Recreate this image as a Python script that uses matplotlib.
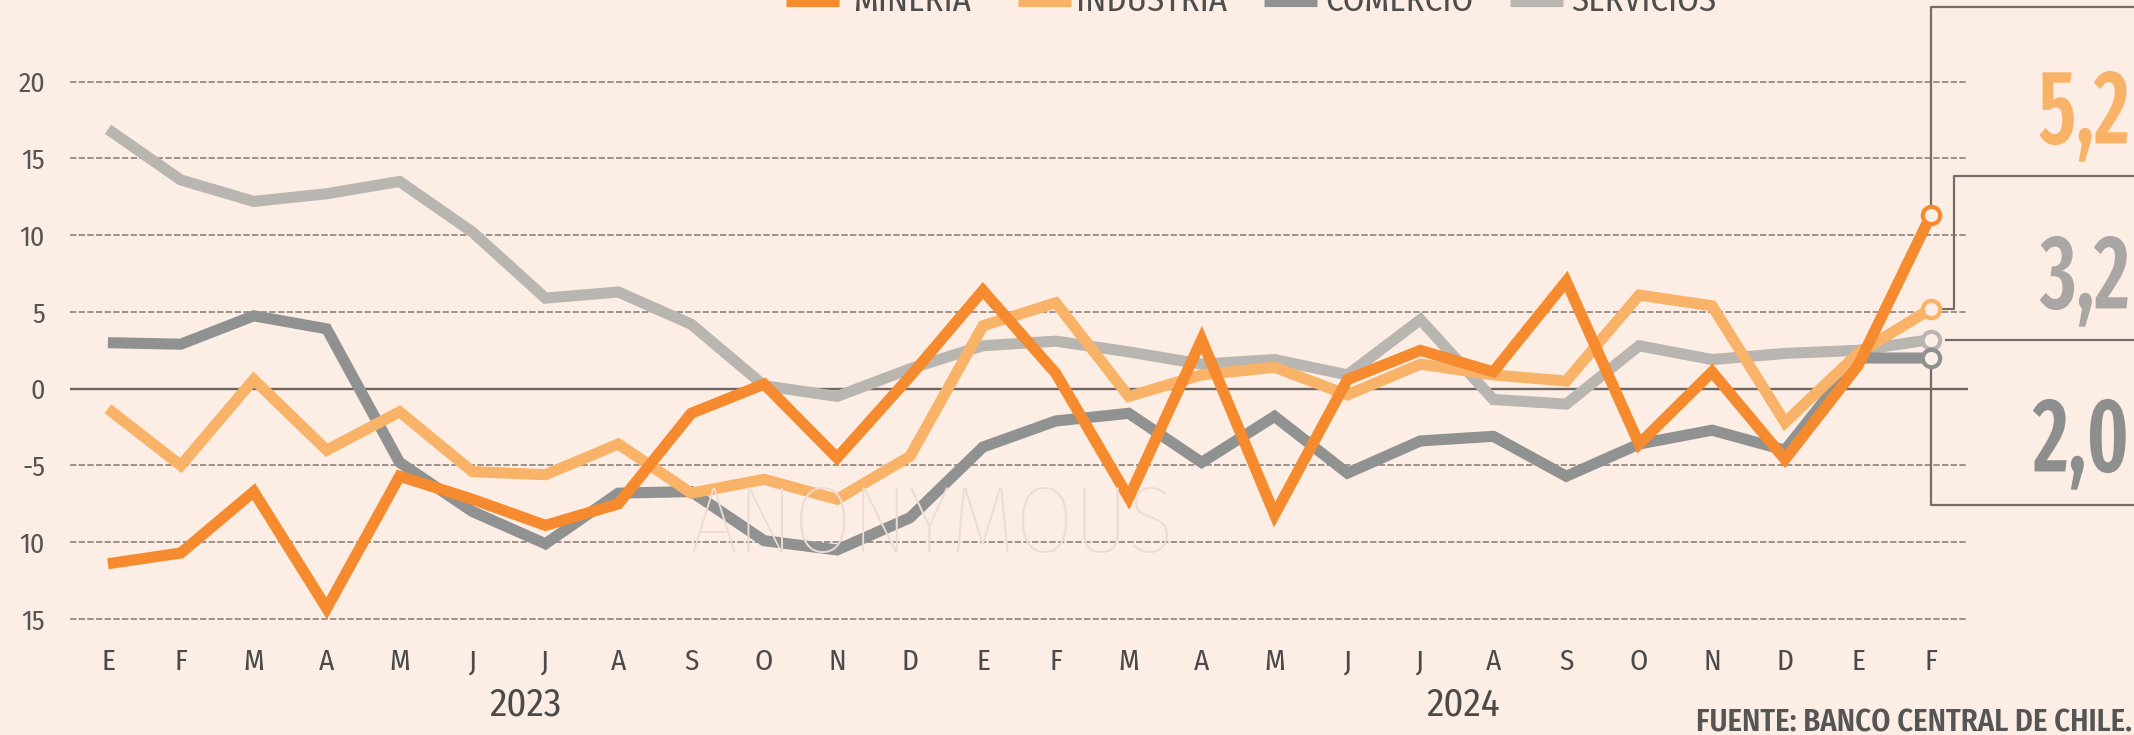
import matplotlib
matplotlib.use("Agg")
import matplotlib.pyplot as plt
from matplotlib import transforms
from matplotlib.lines import Line2D
from matplotlib.patheffects import AbstractPathEffect
from matplotlib.transforms import Affine2D

W, H, DPI = 2134, 735, 100
BG = "#fdeee5"
plt.rcParams["font.family"] = ["Fira Sans Condensed", "DejaVu Sans"]
BIG_FONT = ["Fira Sans Extra Condensed", "DejaVu Sans"]

# --- data (monthly y/y %, Jan 2023 - Feb 2025) ---
months = ["E", "F", "M", "A", "M", "J", "J", "A", "S", "O", "N", "D",
          "E", "F", "M", "A", "M", "J", "J", "A", "S", "O", "N", "D",
          "E", "F"]
years = ["2023", "2024"]
year_x = [5.73, 18.59]

mineria = [-11.4, -10.7, -6.7, -14.3, -5.7, -7.2, -8.9, -7.5, -1.6, 0.3, -4.5, 0.8,
           6.4, 1.0, -7.1, 3.2, -8.2, 0.6, 2.5, 1.1, 7.0, -3.6, 1.1, -4.6,
           1.5, 11.3]
industria = [-1.3, -5.0, 0.6, -4.0, -1.5, -5.4, -5.6, -3.6, -6.8, -5.9, -7.2, -4.4,
             4.1, 5.6, -0.5, 0.9, 1.4, -0.4, 1.6, 0.9, 0.5, 6.1, 5.4, -2.2,
             2.3, 5.2]
comercio = [3.0, 2.9, 4.75, 3.9, -4.8, -8.0, -10.1, -6.8, -6.7, -9.9, -10.5, -8.4,
            -3.8, -2.1, -1.6, -4.8, -1.8, -5.5, -3.4, -3.1, -5.7, -3.6, -2.7, -4.0,
            2.0, 2.0]
servicios = [16.9, 13.6, 12.2, 12.7, 13.5, 10.2, 5.9, 6.3, 4.2, 0.2, -0.5, 1.3,
             2.8, 3.1, 2.4, 1.6, 1.9, 0.9, 4.5, -0.7, -1.0, 2.8, 1.9, 2.3,
             2.5, 3.2]

yticks = [20, 15, 10, 5, 0, -5, -10, -15]
ytick_labels = ["20", "15", "10", "5", "0", "-5", "10", "15"]
legend_names = ["MINERIA", "INDUSTRIA", "COMERCIO", "SERVICIOS"]

C_MIN = "#f58a2e"
C_IND = "#f9b368"
C_COM = "#8f9291"
C_SER = "#b9b5b1"
C_LINE = "#746c66"


def fmt(v):
    return f"{v:.1f}".replace(".", ",")


class Squeeze(AbstractPathEffect):
    """Narrow the glyphs horizontally, keeping the right edge in place."""

    def __init__(self, sx):
        super().__init__()
        self.sx = sx

    def draw_path(self, renderer, gc, tpath, affine, rgbFace=None):
        x1 = affine.transform_path(tpath).get_extents().x1
        aff = affine + Affine2D().translate(-x1, 0).scale(self.sx, 1).translate(x1, 0)
        renderer.draw_path(gc, tpath, aff, rgbFace)


fig = plt.figure(figsize=(W / DPI, H / DPI), dpi=DPI)
fig.patch.set_facecolor(BG)

ax = fig.add_axes([70 / W, 1 - 626.7 / H, 1898 / W, 552.7 / H])
ax.set_facecolor(BG)
ax.set_xlim(-0.52, 25.51)
ax.set_ylim(-15.5, 20.5)

x = list(range(len(months)))
series = [
    ("SERVICIOS", servicios, C_SER, 3),
    ("COMERCIO", comercio, C_COM, 4),
    ("INDUSTRIA", industria, C_IND, 5),
    ("MINERIA", mineria, C_MIN, 6),
]
colors = {}
for name, vals, col, z in series:
    ax.plot(x, vals, color=col, lw=8, solid_joinstyle="miter",
            solid_capstyle="butt", zorder=z)
    ax.plot(x[-1], vals[-1], "o", ms=12.5, mfc=BG, mec=col, mew=3, zorder=z + 10)
    colors[name] = col

ax.set_yticks(yticks)
ax.set_yticklabels(ytick_labels)
ax.set_xticks(x)
ax.set_xticklabels(months)
ax.grid(axis="y", color="#958b84", lw=1.3, linestyle=(0, (3.5, 1.3)), zorder=1)
ax.axhline(0, color="#6d6560", lw=1.7, zorder=2)
for s in ax.spines.values():
    s.set_visible(False)
ax.tick_params(axis="both", length=0, colors="#555555", labelsize=20)
ax.tick_params(axis="y", pad=18)
ax.tick_params(axis="x", pad=15, labelcolor="#4a4a4a", labelsize=21)

# year labels
tr = transforms.blended_transform_factory(ax.transData, fig.transFigure)
for yx, yl in zip(year_x, years):
    ax.text(yx, 1 - 705 / H, yl, transform=tr, ha="center", va="center",
            fontsize=28, color="#4a4a4a")

# watermark
fig.text(932 / W, 1 - 527 / H, "ANONYMOUS", ha="center", va="center",
         fontsize=68, fontweight="light", color="#ecdcd3", zorder=0)

# right-hand brackets (data coords, unclipped)
last = x[-1]
x_edge = 27.79
y_top = 24.85
x_ind = 25.32
y_ind_top = 13.88
y_com_bot = -7.58
kw = dict(color=C_LINE, lw=1.6, clip_on=False, zorder=2, solid_capstyle="butt")
ax.plot([last, last, x_edge], [mineria[-1], y_top, y_top], **kw)
ax.plot([last, x_ind, x_ind, x_edge],
        [industria[-1], industria[-1], y_ind_top, y_ind_top], **kw)
ax.plot([25.2, x_edge], [servicios[-1], servicios[-1]], **kw)
ax.plot([last, last, x_edge], [comercio[-1], y_com_bot, y_com_bot], **kw)

# big value labels
big = dict(ha="right", va="center", fontsize=76, fontweight="semibold",
           family=BIG_FONT, path_effects=[Squeeze(0.8)])
fig.text(2130 / W, 1 + 50 / H, fmt(mineria[-1]), color=C_MIN, **big)
fig.text(2130 / W, 1 - 115 / H, fmt(industria[-1]), color=C_IND, **big)
fig.text(2130 / W, 1 - 280 / H, fmt(servicios[-1]), color="#a9a6a3", **big)
fig.text(2130 / W, 1 - 443 / H, fmt(comercio[-1]), color="#8c8f8e", **big)

# legend keys, clipped by the top edge as in the source
key_x = [786, 1018, 1264, 1510]
text_x = [853, 1076, 1325, 1571]
for kx, tx, name in zip(key_x, text_x, legend_names):
    fig.add_artist(Line2D([kx / W, (kx + 53) / W], [1 - 1 / H, 1 - 1 / H],
                          color=colors[name], lw=8, solid_capstyle="butt"))
    fig.text(tx / W, 1 - 11 / H, name, ha="left", va="baseline",
             fontsize=25, color="#4d4d4d")

# source
fig.text(2132 / W, 1 - 732 / H, "FUENTE: BANCO CENTRAL DE CHILE.", ha="right",
         va="baseline", fontsize=22, fontweight="semibold", color="#555555")

fig.savefig("out.png", dpi=DPI, facecolor=BG)
